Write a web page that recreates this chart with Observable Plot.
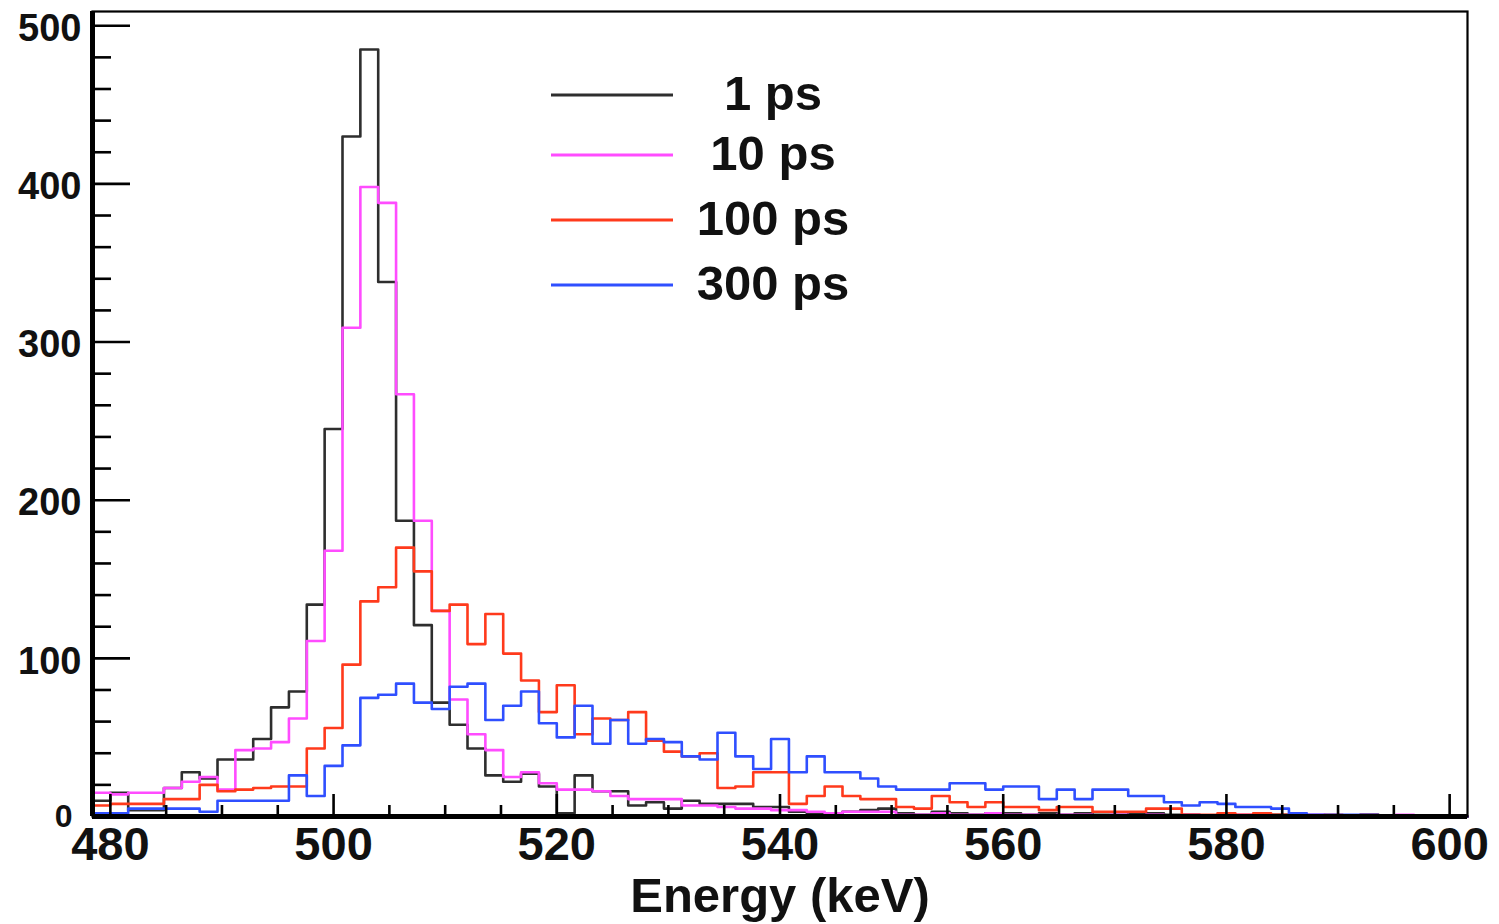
<!DOCTYPE html>
<html><head><meta charset="utf-8">
<script src="https://cdn.jsdelivr.net/npm/d3@7"></script>
<script src="https://cdn.jsdelivr.net/npm/@observablehq/plot@0.6"></script>
<style>
html,body{margin:0;padding:0;background:#fff;}
#chart svg{display:block;}
</style></head><body><div id="chart"></div>
<script>
// ---- data ----
const xDomain = [478.4, 601.6];
const binStart = 478.4;
const binWidth = 1.6;
const seriesNames = ["1 ps", "10 ps", "100 ps", "300 ps"];
const seriesColors = ["#2e2e2e", "#ff4cff", "#ff3a1c", "#2f4fff"];

const counts1ps = [10,15,4,4,18,28,24,36,36,49,69,79,134,245,430,485,338,187,121,72,
  58,43,26,22,27,19,2,26,16,16,7,9,5,10,8,8,8,6,6,3,
  2,2,3,4,5,2,1,3,2,1,2,2,1,2,1,2,1,1,2,2,
  1,1,0,1,0,0,1,0,0,0,0,1,0,0,0,0,0];
const counts10ps = [15,14,15,15,18,22,25,17,42,43,47,62,111,168,309,398,388,267,187,130,
  74,52,42,25,28,21,17,17,16,13,11,11,11,7,7,6,5,5,4,4,
  3,2,3,3,3,1,1,2,1,1,2,1,1,0,1,1,0,1,0,1,
  0,1,0,0,1,0,0,0,1,0,0,0,0,1,0,0,0];
const counts100ps = [7,8,8,8,11,11,20,16,17,18,19,19,43,56,96,136,145,170,155,130,
  134,109,128,103,86,66,83,52,62,61,66,48,41,38,40,18,19,28,28,8,
  13,19,13,11,11,6,5,13,9,6,9,6,6,4,6,6,3,3,3,5,
  5,1,1,2,1,2,1,1,0,1,0,1,0,0,0,0,0];
const counts300ps = [2,2,5,5,5,5,3,10,10,10,10,26,13,32,45,75,77,84,72,68,
  82,84,61,70,79,59,50,70,46,61,46,49,47,38,36,53,38,30,49,28,
  38,28,28,24,19,17,17,17,21,21,17,19,19,11,17,11,17,17,13,13,
  9,7,9,8,6,6,5,2,1,1,1,1,0,0,0,0,0];

const yMajor = [0, 100, 200, 300, 400, 500];
const yMinor = [20,40,60,80,120,140,160,180,220,240,260,280,320,340,360,380,420,440,460,480];
const xMajor = [480, 500, 520, 540, 560, 580, 600];
const xMinor = [485,490,495,505,510,515,525,530,535,545,550,555,565,570,575,585,590,595];
const xLabel = "Energy (keV)";
const yMax = 509;

// ---- build step rows ----
const allCounts = [counts1ps, counts10ps, counts100ps, counts300ps];
const rows = [];
allCounts.forEach((arr, s) => {
  arr.forEach((v, k) => rows.push({series: seriesNames[s], x: binStart + k * binWidth, y: v}));
  rows.push({series: seriesNames[s], x: binStart + arr.length * binWidth, y: arr[arr.length - 1]});
});

const W = 1499, H = 924;
const mL = 92, mR = 32, mT = 11, mB = 108;
const frameW = W - mL - mR, frameH = H - mT - mB;
const font = "'Liberation Sans', Arial, Helvetica, sans-serif";
const yLabelsUpper = yMajor.filter(d => d > 0);
const yLabelsZero = yMajor.filter(d => d === 0);

const plot = Plot.plot({
  width: W, height: H,
  marginLeft: mL, marginRight: mR, marginTop: mT, marginBottom: mB,
  style: {background: "#fff", fontFamily: font},
  x: {domain: xDomain, axis: null},
  y: {domain: [0, yMax], axis: null},
  color: {domain: seriesNames, range: seriesColors},
  marks: [
    Plot.line(rows, {x: "x", y: "y", z: "series", stroke: "series", strokeWidth: 2.6, curve: "step-after"}),
    Plot.frame({stroke: "#000", strokeWidth: 2.2}),
    Plot.ruleX([xDomain[0]], {stroke: "#000", strokeWidth: 5}),
    Plot.ruleY([0], {stroke: "#000", strokeWidth: 5}),
    Plot.tickY(yMajor, {y: d => d, insetRight: frameW - 38, stroke: "#000", strokeWidth: 2.6}),
    Plot.tickY(yMinor, {y: d => d, insetRight: frameW - 19, stroke: "#000", strokeWidth: 2.6}),
    Plot.tickX(xMajor, {x: d => d, insetTop: frameH - 22, stroke: "#000", strokeWidth: 2.6}),
    Plot.tickX(xMinor, {x: d => d, insetTop: frameH - 11, stroke: "#000", strokeWidth: 2.6}),
    Plot.text(yLabelsUpper, {y: d => d, text: d => String(d), frameAnchor: "left", dx: -11, dy: 3, textAnchor: "end",
      lineAnchor: "middle", fontSize: 38, fontWeight: "bold", fill: "#111"}),
    Plot.text(yLabelsZero, {y: d => d, text: d => String(d), frameAnchor: "left", dx: -20, dy: 0, textAnchor: "end",
      lineAnchor: "middle", fontSize: 32, fontWeight: "bold", fill: "#111"}),
    Plot.text(xMajor, {x: d => d, text: d => String(d), frameAnchor: "bottom", dy: 28, lineAnchor: "middle",
      fontSize: 47, fontWeight: "bold", fill: "#111"}),
    Plot.text([xLabel], {text: d => d, frameAnchor: "bottom", dy: 80, lineAnchor: "middle",
      fontSize: 49, fontWeight: "bold", fill: "#111"})
  ]
});

document.getElementById("chart").appendChild(plot);

// ---- legend (inside the frame, upper middle) ----
const svg = d3.select(plot);
const lg = svg.append("g").attr("font-family", font).attr("font-weight", "bold").attr("font-size", 49);
const legendRows = [95, 155, 220, 285];
seriesNames.forEach((name, i) => {
  lg.append("line").attr("x1", 551).attr("x2", 673).attr("y1", legendRows[i]).attr("y2", legendRows[i])
    .attr("stroke", seriesColors[i]).attr("stroke-width", 3);
  lg.append("text").attr("x", 773).attr("y", legendRows[i] + 2).attr("text-anchor", "middle")
    .attr("dominant-baseline", "middle").attr("fill", "#111").text(name);
});
</script>
</body></html>
